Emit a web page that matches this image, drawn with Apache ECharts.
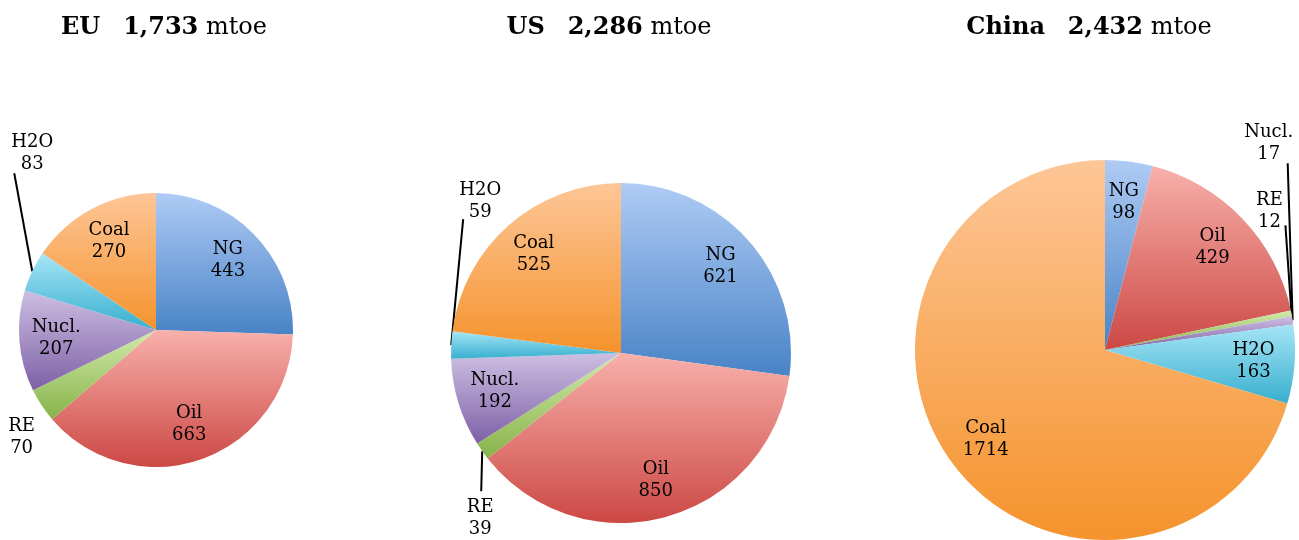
<!DOCTYPE html>
<html>
<head>
<meta charset="utf-8">
<script src="https://cdn.jsdelivr.net/npm/echarts@6/dist/echarts.min.js"></script>
<style>
  html, body { margin: 0; padding: 0; background: #ffffff; }
  #chart { width: 1299px; height: 540px; }
</style>
</head>
<body>
<div id="chart"></div>
<script>
// Primary energy supply by source (mtoe)
const regions = ['EU', 'US', 'China'];
const totals = ['1,733', '2,286', '2,432'];
const sources = ['NG', 'Oil', 'RE', 'Nucl.', 'H2O', 'Coal'];
const euValues = [443, 663, 70, 207, 83, 270];
const usValues = [621, 850, 39, 192, 59, 525];
const chinaValues = [98, 429, 12, 17, 163, 1714];
const regionValues = [euValues, usValues, chinaValues];

// Vertical gradient per source: [top, bottom]
const sourceColors = {
  'NG':    ['#afcbf5', '#4883c6'],
  'Oil':   ['#f8b0ab', '#cc4844'],
  'RE':    ['#d2eaab', '#86b348'],
  'Nucl.': ['#cdbfe2', '#7d60a6'],
  'H2O':   ['#a6e5f6', '#37afce'],
  'Coal':  ['#fdc697', '#f5932c']
};

const FONT = 'DejaVu Serif';

// Placement of each pie; outside labels carry offsets from the slice's outer midpoint
const pieLayouts = [
  {
    center: [156, 330], radius: 137, titleX: 164, insideScale: 1.4,
    outside: {
      'H2O': { dx: 0, dy: -96, v: 'bottom', line: [-18, -98] },
      'RE':  { dx: -20, dy: 32, v: 'middle', line: null }
    }
  },
  {
    center: [621, 353], radius: 170, titleX: 609, insideScale: 1.5,
    outside: {
      'H2O': { dx: 29, dy: -122, v: 'bottom', line: [12, -126] },
      'RE':  { dx: -2, dy: 45, v: 'top', line: [-1, 40] }
    }
  },
  {
    center: [1105, 350], radius: 190, titleX: 1089, insideScale: 1.52,
    outside: {
      'Nucl.': { dx: -24, dy: -155, v: 'bottom', line: [-5, -157] },
      'RE':    { dx: -22, dy: -80, v: 'bottom', line: [-6, -88] }
    }
  }
];

function gradientFor(name) {
  const c = sourceColors[name];
  return {
    type: 'linear', x: 0, y: 0, x2: 0, y2: 1,
    colorStops: [{ offset: 0, color: c[0] }, { offset: 1, color: c[1] }]
  };
}

function makeLabelLayout(cfg) {
  return function (p) {
    const name = sources[p.dataIndex];
    const off = cfg.outside[name];
    const r = p.labelRect;
    if (!off) {
      // push inside labels further out from the centre
      const lx = r.x + r.width / 2;
      const ly = r.y + r.height / 2;
      return {
        x: cfg.center[0] + (lx - cfg.center[0]) * cfg.insideScale,
        y: cfg.center[1] + (ly - cfg.center[1]) * cfg.insideScale,
        align: 'center',
        verticalAlign: 'middle'
      };
    }
    const a = p.labelLinePoints[0];
    const result = {
      x: a[0] + off.dx,
      y: a[1] + off.dy,
      align: 'center',
      verticalAlign: off.v
    };
    if (off.line) {
      const end = [a[0] + off.line[0], a[1] + off.line[1]];
      result.labelLinePoints = [[a[0], a[1]], end, end];
    } else {
      result.labelLinePoints = [[a[0], a[1]], [a[0], a[1]], [a[0], a[1]]];
    }
    return result;
  };
}

const series = regionValues.map(function (values, i) {
  const cfg = pieLayouts[i];
  return {
    type: 'pie',
    center: cfg.center,
    radius: cfg.radius,
    startAngle: 90,
    clockwise: true,
    avoidLabelOverlap: false,
    silent: true,
    animation: false,
    itemStyle: { borderWidth: 0 },
    label: {
      show: true,
      position: 'inside',
      formatter: '{b}\n{c}',
      fontFamily: FONT,
      fontSize: 18,
      lineHeight: 22,
      color: '#000000',
      align: 'center'
    },
    labelLine: { show: false },
    labelLayout: makeLabelLayout(cfg),
    data: sources.map(function (name, k) {
      const item = {
        name: name,
        value: values[k],
        itemStyle: { color: gradientFor(name) }
      };
      const off = cfg.outside[name];
      if (off) {
        item.label = { position: 'outside' };
        item.labelLine = {
          show: true,
          length: 5,
          length2: 5,
          lineStyle: off.line
            ? { color: '#000000', width: 2 }
            : { color: '#000000', width: 0, opacity: 0 }
        };
      }
      return item;
    })
  };
});

const titles = regions.map(function (region, i) {
  return {
    text: '{b|' + region + '}   {b|' + totals[i] + '} mtoe',
    left: pieLayouts[i].titleX,
    textAlign: 'center',
    top: 16,
    padding: 0,
    textStyle: {
      fontFamily: FONT,
      fontSize: 24,
      fontWeight: 'normal',
      color: '#000000',
      rich: {
        b: { fontFamily: FONT, fontSize: 24, fontWeight: 'bold', color: '#000000' }
      }
    }
  };
});

const chart = echarts.init(document.getElementById('chart'), null, { renderer: 'canvas' });
chart.setOption({
  backgroundColor: '#ffffff',
  animation: false,
  title: titles,
  series: series
});
</script>
</body>
</html>
